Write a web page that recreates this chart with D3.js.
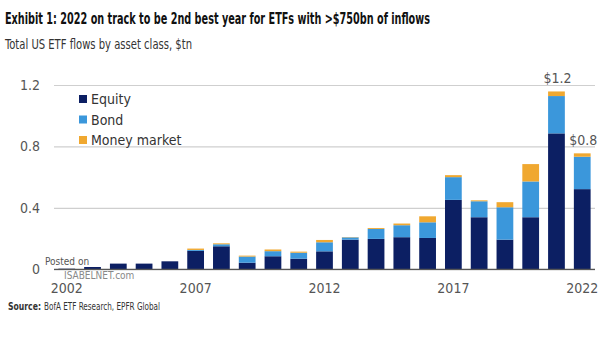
<!DOCTYPE html>
<meta charset="utf-8">
<style>
body { margin: 0; background: #fff; }
text { font-family: "DejaVu Sans", sans-serif; font-stretch: condensed; }
.title { font-weight: bold; font-size: 15px; fill: #111; }
.sub { font-size: 13.5px; fill: #333; }
.src { font-size: 10px; fill: #333; }
</style>
<body>
<script src="https://cdnjs.cloudflare.com/ajax/libs/d3/7.8.5/d3.min.js"></script>
<script>

var years = d3.range(2002, 2023);
var equity = [0.004, 0.015, 0.037, 0.037, 0.052, 0.12, 0.15, 0.043, 0.085, 0.069, 0.117, 0.193, 0.198, 0.209, 0.204, 0.452, 0.339, 0.193, 0.339, 0.885, 0.522];
var bond   = [0, 0, 0, 0, 0, 0.006, 0.013, 0.04, 0.033, 0.039, 0.059, 0.015, 0.065, 0.078, 0.102, 0.148, 0.104, 0.211, 0.233, 0.243, 0.211];
var money  = [0, 0, 0, 0, 0, 0.009, 0.006, 0.006, 0.011, 0.007, 0.015, 0.002, 0.006, 0.011, 0.039, 0.013, 0.006, 0.033, 0.113, 0.03, 0.022];
var seriesNames = ["Equity", "Bond", "Money market"];
var colors = ["#0c1f63", "#3b97db", "#f0a830"];
var yTicks = [0, 0.4, 0.8, 1.2];
var xTicks = [2002, 2007, 2012, 2017, 2022];
var callouts = [{year: 2021, label: "$1.2"}, {year: 2022, label: "$0.8"}];

var W = 605, H = 341;

var svg = d3.select("body").append("svg")
    .attr("width", W)
    .attr("height", H);

svg.append("text").attr("class", "title").attr("x", 5).attr("y", 24)
    .attr("textLength", 425).attr("lengthAdjust", "spacingAndGlyphs")
    .text("Exhibit 1: 2022 on track to be 2nd best year for ETFs with >$750bn of inflows");
svg.append("text").attr("class", "sub").attr("x", 5).attr("y", 49)
    .attr("textLength", 187).attr("lengthAdjust", "spacingAndGlyphs")
    .text("Total US ETF flows by asset class, $tn");

var table = years.map(function(y, i) {
  return {year: y, "Equity": equity[i], "Bond": bond[i], "Money market": money[i]};
});
var stacked = d3.stack().keys(seriesNames)(table);

var x = d3.scaleBand()
    .domain(years)
    .range([54, 595])
    .paddingInner(0.35)
    .paddingOuter(0.17);

var y = d3.scaleLinear()
    .domain([0, 1.2])
    .range([269.3, 85]);

// gridlines + y labels
var yAxis = d3.axisLeft(y)
    .tickValues(yTicks)
    .tickSize(-(595 - 54))
    .tickPadding(14)
    .tickFormat(function(d) { return d === 0 ? "0" : d3.format(".1f")(d); });

var gy = svg.append("g")
    .attr("transform", "translate(54,0)")
    .call(yAxis);
gy.select(".domain").remove();
gy.selectAll(".tick line").attr("stroke", "#cfcfcf").attr("stroke-width", 1.2);

svg.append("g")
    .selectAll("g")
    .data(stacked)
    .enter()
    .append("g")
    .attr("fill", function(d, i) { return colors[i]; })
    .selectAll("rect")
    .data(function(d) { return d; })
    .enter()
    .append("rect")
    .attr("x", function(d) { return x(d.data.year); })
    .attr("width", x.bandwidth())
    .attr("y", function(d) { return y(d[1]); })
    .attr("height", function(d) { return y(d[0]) - y(d[1]); });

// baseline
svg.append("line")
    .attr("x1", 54).attr("x2", 595)
    .attr("y1", y(0)).attr("y2", y(0))
    .attr("stroke", "#555").attr("stroke-width", 1.2);

var xAxis = d3.axisBottom(x)
    .tickValues(xTicks)
    .tickSize(0)
    .tickPadding(14);
var gx = svg.append("g")
    .attr("transform", "translate(0," + y(0) + ")")
    .call(xAxis);
gx.select(".domain").remove();

gy.selectAll(".tick text").attr("font-size", 14).attr("fill", "#555").attr("font-family", null);
gx.selectAll(".tick text").attr("font-size", 14).attr("fill", "#555").attr("font-family", null);

// totals above 2021 and 2022
svg.selectAll(".callout")
    .data(callouts)
    .enter()
    .append("text")
    .attr("class", "callout")
    .attr("x", function(d) { return x(d.year) + x.bandwidth() / 2 + 1; })
    .attr("y", function(d) {
      var i = years.indexOf(d.year);
      return y(equity[i] + bond[i] + money[i]) - 8;
    })
    .attr("text-anchor", "middle")
    .attr("font-size", 14)
    .attr("fill", "#555")
    .text(function(d) { return d.label; });

// legend
var legend = svg.append("g")
    .selectAll("g")
    .data(seriesNames)
    .enter()
    .append("g")
    .attr("transform", function(d, i) { return "translate(79," + (95 + i * 20.5) + ")"; });
legend.append("rect")
    .attr("width", 8).attr("height", 8)
    .attr("fill", function(d, i) { return colors[i]; });
legend.append("text")
    .attr("x", 12).attr("y", 9)
    .attr("font-size", 14)
    .attr("fill", "#333")
    .text(function(d) { return d; });

// watermark
svg.append("text").attr("x", 45).attr("y", 265)
    .attr("font-size", 10).attr("fill", "#555").text("Posted on");
svg.append("text").attr("x", 64).attr("y", 279)
    .attr("font-size", 10).attr("fill", "#888").text("ISABELNET.com");

svg.append("text").attr("class", "src").attr("x", 8).attr("y", 310)
    .attr("font-weight", "bold")
    .attr("textLength", 33).attr("lengthAdjust", "spacingAndGlyphs")
    .text("Source:");
svg.append("text").attr("class", "src").attr("x", 44).attr("y", 310)
    .attr("textLength", 116).attr("lengthAdjust", "spacingAndGlyphs")
    .text("BofA ETF Research, EPFR Global");

</script>
